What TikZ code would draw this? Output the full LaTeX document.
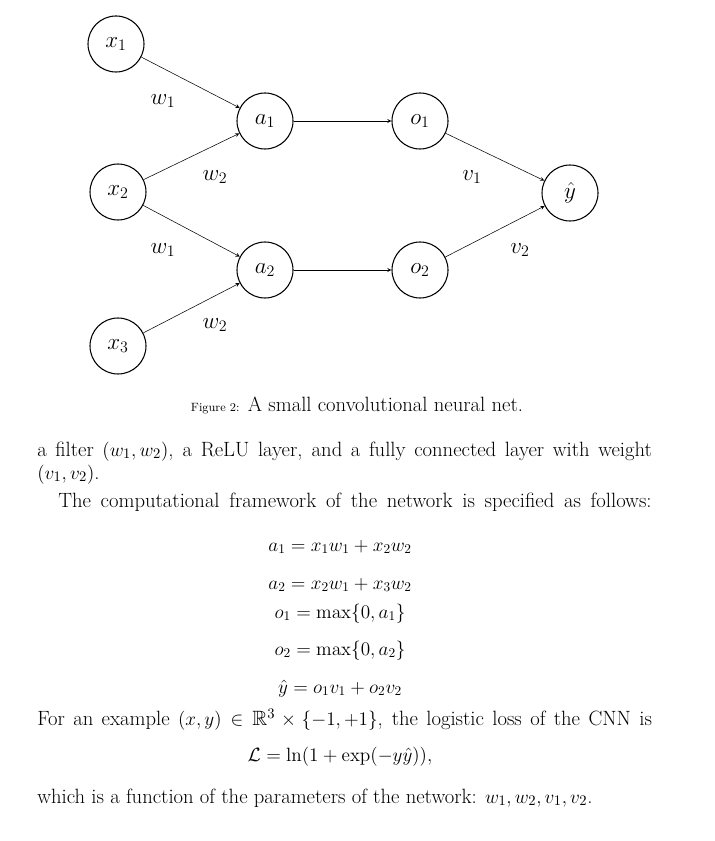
\documentclass[tikz,border=0pt]{standalone}
\usepackage{amsmath,amssymb}
\begin{document}
\begin{tikzpicture}[x=0.75pt,y=-0.75pt,
  neur/.style={circle,draw,thick,minimum size=42pt,inner sep=0pt,font=\LARGE},
  conn/.style={->,>=stealth},
  wl/.style={font=\LARGE},
  body/.style={anchor=base west,inner sep=0pt,font=\fontsize{15.5}{18}\selectfont},
  eq/.style={anchor=base,inner sep=0pt,font=\fontsize{14.5}{17}\selectfont}]
\useasboundingbox (0,0) rectangle (714,841);
\node[neur] (x1) at (116,44) {$x_1$};
\node[neur] (x2) at (118,192) {$x_2$};
\node[neur] (x3) at (118,346) {$x_3$};
\node[neur] (a1) at (265,121) {$a_1$};
\node[neur] (a2) at (265,270) {$a_2$};
\node[neur] (o1) at (420,121) {$o_1$};
\node[neur] (o2) at (420,270) {$o_2$};
\node[neur] (y) at (570,193) {$\hat y$};
\draw[conn] (x1) -- (a1);
\draw[conn] (x2) -- (a1);
\draw[conn] (x2) -- (a2);
\draw[conn] (x3) -- (a2);
\draw[conn] (a1) -- (o1);
\draw[conn] (a2) -- (o2);
\draw[conn] (o1) -- (y);
\draw[conn] (o2) -- (y);
\node[wl] (l1) at (163,101) {$w_1$};
\node[wl] (l2) at (215,177) {$w_2$};
\node[wl] (l3) at (163,250) {$w_1$};
\node[wl] (l4) at (215,325) {$w_2$};
\node[wl] (l5) at (472,177) {$v_1$};
\node[wl] (l6) at (520,250) {$v_2$};
\node[eq,font=\fontsize{15.5}{18}\selectfont] (cap) at (357,411) {{\small Figure 2:} A small convolutional neural net.};
\node[body] (t1) at (37,456) {\makebox[461pt][s]{a filter $(w_1,w_2)$, a ReLU layer, and a fully connected layer with weight}};
\node[body] (t2) at (37,479) {$(v_1,v_2)$.};
\node[body] (t3) at (58,507) {\makebox[445pt][s]{The computational framework of the network is specified as follows:}};
\node[eq] (e1) at (340,551) {$a_1 = x_1w_1 + x_2w_2$};
\node[eq] (e2) at (340,589) {$a_2 = x_2w_1 + x_3w_2$};
\node[eq] (e3) at (340,618) {$o_1 = \max\{0,a_1\}$};
\node[eq] (e4) at (340,655) {$o_2 = \max\{0,a_2\}$};
\node[eq] (e5) at (340,693) {$\hat y = o_1v_1 + o_2v_2$};
\node[body] (t4) at (37,725) {\makebox[461pt][s]{For an example $(x,y)\in\mathbb{R}^3\times\{-1,+1\}$, the logistic loss of the CNN is}};
\node[eq] (e6) at (340,761) {$\mathcal{L} = \ln(1+\exp(-y\hat y)),$};
\node[body] (t5) at (37,803) {which is a function of the parameters of the network: $w_1, w_2, v_1, v_2$.};
\end{tikzpicture}
\end{document}
